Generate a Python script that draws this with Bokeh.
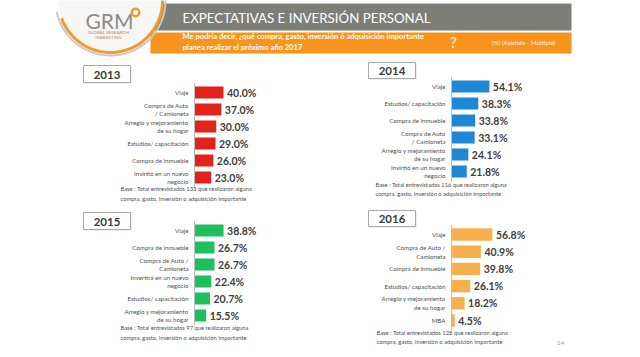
import numpy as np
from bokeh.plotting import figure
from bokeh.models import Range1d
from bokeh.core.properties import value
from bokeh.embed import file_html
from bokeh.resources import INLINE

# ---------------- data ----------------
years = ["2013", "2014", "2015", "2016"]

cats_2013 = ["Viaje", "Compra de Auto\n/ Camioneta", "Arreglo y mejoramiento\nde su hogar",
             "Estudios/ capacitación", "Compra de inmueble", "Invirtió en un nuevo\nnegocio"]
vals_2013 = [40.0, 37.0, 30.0, 29.0, 26.0, 23.0]

cats_2014 = ["Viaje", "Estudios/ capacitación", "Compra de inmueble", "Compra de Auto\n/ Camioneta",
             "Arreglo y mejoramiento\nde su hogar", "Invirtió en un nuevo\nnegocio"]
vals_2014 = [54.1, 38.3, 33.8, 33.1, 24.1, 21.8]

cats_2015 = ["Viaje", "Compra de inmueble", "Compra de Auto /\nCamioneta", "Invertirá en un nuevo\nnegocio",
             "Estudios/ capacitación", "Arreglo y mejoramiento\nde su hogar"]
vals_2015 = [38.8, 26.7, 26.7, 22.4, 20.7, 15.5]

cats_2016 = ["Viaje", "Compra de Auto /\nCamioneta", "Compra de inmueble", "Estudios/ capacitación",
             "Arreglo y mejoramiento\nde su hogar", "MBA"]
vals_2016 = [56.8, 40.9, 39.8, 26.1, 18.2, 4.5]

bases = [133, 116, 97, 128]

title = "EXPECTATIVAS E INVERSIÓN PERSONAL"
question = "Me podría decir, ¿qué compra, gasto, inversión ó adquisición importante\nplanea realizar el próximo año 2017"
note = "(%) (Asistida - Múltiple)"
page_no = "14"

# ---------------- layout / style ----------------
W, H = 640, 357
FONT = value("Lato")
p = figure(width=W, height=H, x_range=Range1d(0, W), y_range=Range1d(H, 0),
           output_backend="svg", toolbar_location=None, min_border=0)
p.axis.visible = False
p.grid.visible = False
p.outline_line_color = None
p.background_fill_color = "white"
p.border_fill_color = "white"

# header bands
p.quad(left=150, right=571, top=3, bottom=30, fill_color="#7e7e79", line_color=None)
p.quad(left=150, right=571, top=32, bottom=53, fill_color="#f7941d", line_color=None)

# logo area
cx, cy, r = 110, 0, 52
th = np.linspace(0, np.pi, 80)
p.patch(x=list(cx + r * np.cos(th)), y=list(cy + r * np.sin(th)), fill_color="#f6f6f4", line_color=None)
th2 = np.linspace(np.radians(-8), np.radians(168), 80)
p.line(x=list(cx + (r + 3) * np.cos(th2)), y=list(cy + (r + 3) * np.sin(th2)), line_color="#c9c9c9", line_width=2)
th3 = np.linspace(np.radians(-5), np.radians(160), 80)
p.line(x=list(cx + r * np.cos(th3)), y=list(cy + r * np.sin(th3)), line_color="#f39a2b", line_width=3)

p.text(x=[109], y=[20], text=["GRM"], text_font=FONT, text_font_size="21px", text_color="#8c8c8c",
       text_align="center", text_baseline="middle")
p.scatter(x=[135], y=[12], size=10, fill_color="#f39a2b", line_color=None)
p.scatter(x=[135], y=[12], size=5, fill_color="white", line_color=None, marker="circle")
p.text(x=[108, 108], y=[32, 37], text=["GLOBAL RESEARCH", "MARKETING"], text_font=FONT,
       text_font_size="4.5px", text_color="#c08a55", text_align="center", text_baseline="middle")

p.text(x=[182], y=[17], text=[title], text_font=FONT, text_font_size="13.3px", text_color="white",
       text_align="left", text_baseline="middle")
p.text(x=[182], y=[40.5], text=[question], text_font=FONT, text_font_size="7.6px", text_font_style="bold",
       text_color="white", text_align="left", text_baseline="middle", text_line_height=1.1)
p.text(x=[453], y=[41], text=["?"], text_font=FONT, text_font_size="15px", text_font_style="bold",
       text_color="#fde9c8", text_align="center", text_baseline="middle")
p.text(x=[523], y=[42], text=[note], text_font=FONT, text_font_size="6.3px",
       text_color="#fff3e0", text_align="center", text_baseline="middle")

panels = [
    # cats, vals, color, axis_x, px_per_pct, row0_y, row_step, box(x0,x1,y0,y1), base(x,y)
    (cats_2013, vals_2013, "#e2231a", 194, 0.725, 92, 17.0, (83, 130, 65, 82), (120, 193)),
    (cats_2014, vals_2014, "#1e88d6", 451, 0.70, 86, 17.0, (368, 415, 62, 78), (375, 188.5)),
    (cats_2015, vals_2015, "#1fbf5f", 194, 0.75, 230, 17.0, (83, 130, 212, 229), (120, 332)),
    (cats_2016, vals_2016, "#f8b04e", 451, 0.72, 234, 17.2, (368, 415, 210, 226), (376, 336.5)),
]

for k, (cats, vals, color, ax, kx, y0, s, box, basepos) in enumerate(panels):
    xn, yn = f"x{k}", f"y{k}"
    p.extra_x_ranges[xn] = Range1d(-ax / kx, (W - ax) / kx)
    p.extra_y_ranges[yn] = Range1d((H - y0) / s, -y0 / s)
    idx = list(range(len(cats)))
    # bars
    p.hbar(y=idx, right=vals, left=0, height=0.72, fill_color=color, line_color=None,
           x_range_name=xn, y_range_name=yn)
    # axis line
    p.segment(x0=[0], x1=[0], y0=[-0.55], y1=[len(cats) - 0.45], line_color="#bdbdbd", line_width=1,
              x_range_name=xn, y_range_name=yn)
    # value labels
    p.text(x=[v + 3.5 / kx for v in vals], y=idx, text=[f"{v:.1f}%" for v in vals], text_font=FONT,
           text_font_size="10.5px", text_font_style="bold", text_color="#404040",
           text_align="left", text_baseline="middle", x_range_name=xn, y_range_name=yn)
    # category labels
    p.text(x=[-6 / kx] * len(cats), y=idx, text=cats, text_font=FONT, text_font_size="6.2px",
           text_color="#505050", text_align="right", text_baseline="middle", text_line_height=1.25,
           x_range_name=xn, y_range_name=yn)
    # year box
    bx0, bx1, by0, by1 = box
    p.quad(left=bx0 + 1, right=bx1 + 1, top=by0 + 1, bottom=by1 + 1, fill_color="#e2e2e2", line_color=None)
    p.quad(left=bx0, right=bx1, top=by0, bottom=by1, fill_color="white", line_color="#a8a8a8", line_width=1)
    p.text(x=[(bx0 + bx1) / 2], y=[(by0 + by1) / 2 + 0.5], text=[years[k]], text_font=FONT,
           text_font_size="11.5px", text_font_style="bold", text_color="#3a3a3a",
           text_align="center", text_baseline="middle")
    # base note
    p.text(x=[basepos[0]], y=[basepos[1]],
           text=[f"Base : Total entrevistados {bases[k]} que realizaron alguna\ncompra, gasto, inversión o adquisición importante"],
           text_font=FONT, text_font_size="5.8px", text_color="#505050", text_align="left",
           text_baseline="middle", text_line_height=1.3)

p.text(x=[560], y=[342], text=[page_no], text_font=FONT, text_font_size="6.5px", text_color="#a0a0a0",
       text_align="center", text_baseline="middle")

open("out.html", "w").write(file_html(p, INLINE))
